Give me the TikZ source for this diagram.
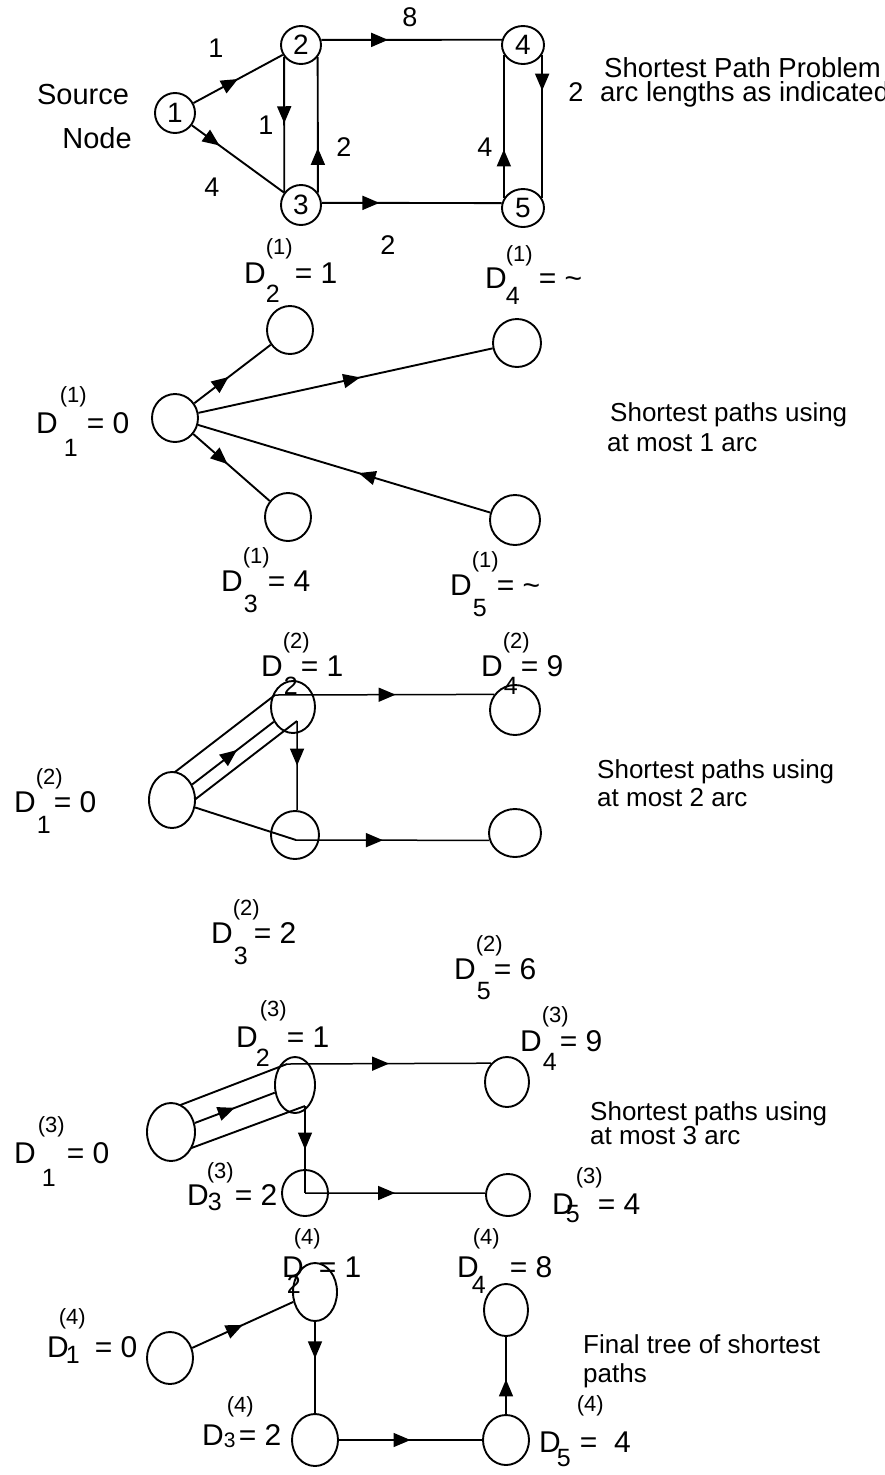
\documentclass[tikz,border=0pt]{standalone}
\usepackage{fontspec}
\setmainfont{Liberation Sans}
\usetikzlibrary{arrows.meta,decorations.markings,shapes.geometric,calc,backgrounds}

% D label: D, superscript (k) and subscript i set by hand, then the value
% #1,#2 shift/raise of the superscript, #3 its text
% #4,#5 shift/raise of the subscript, #6 its text
% #7 gap before the value #8
\newcommand\Dtxt[8]{D\rlap{\kern#1pt\raisebox{#2pt}{\fontsize{22}{22}\selectfont(#3)}}%
  \rlap{\kern#4pt\raisebox{#5pt}{\fontsize{25}{25}\selectfont #6}}\kern#7pt#8}

\tikzset{
  vtx/.style={draw, ellipse, line width=1.9pt, inner sep=0pt},
  sz/.style 2 args={minimum width=#1pt, minimum height=#2pt},
  link/.style={line width=1.9pt},
  thin link/.style={line width=1.5pt},
  arrowat/.style={postaction={decorate,decoration={markings,
      mark=at position #1 with {\arrow{Triangle[length=17pt,width=14pt]}}}}},
  arrowback/.style={postaction={decorate,decoration={markings,
      mark=at position #1 with {\arrowreversed{Triangle[length=17pt,width=14pt]}}}}},
  elab/.style={font=\fontsize{27}{27}\selectfont, inner sep=0pt},
  lbl/.style={font=\fontsize{30}{32}\selectfont, inner sep=0pt, anchor=base west},
  captxt/.style={font=\fontsize{26}{28}\selectfont, inner sep=0pt, anchor=base west},
  vnum/.style={font=\fontsize{28}{28}\selectfont},
}

\begin{document}
\begin{tikzpicture}[x=1pt,y=-1pt]
\useasboundingbox (0,0) rectangle (885,1475);

% ---------------- the network ----------------
\node[font=\fontsize{29}{29}\selectfont] (src) at (83,95) {Source};
\node[font=\fontsize{29}{29}\selectfont] (srcb) at (97,138) {Node};
\node[vtx,vnum,sz={40}{40}] (s1) at (175,113) {1};
\node[vtx,vnum,sz={40}{38}] (s2) at (301,45) {2};
\node[vtx,vnum,sz={40}{40}] (s3) at (301,205) {3};
\node[vtx,vnum,sz={42}{38}] (s4) at (523,45) {4};
\node[vtx,vnum,sz={42}{38}] (s5) at (523,208) {5};

\draw[link,arrowat=.5] (s1) -- (s2);
\draw[link,arrowat=.3] (s1) -- (s3);
\draw[link,arrowat=.49] (s2.215.5) -- (s3.143.1);
\draw[link,arrowat=.33] (s3.36.9) -- (s2.324.5);
\draw[link,arrowat=.37] (s2.14.5) -- (s4.166.8);
\draw[link,arrowat=.32] (s3.6) -- (s5.167);
\draw[link,arrowat=.25] (s4.333) -- (s5.27);
\draw[link,arrowat=.34] (s5.153) -- (s4.207);

\node[elab] (w12) at (216,48) {1};
\node[elab] (w13) at (212,187) {4};
\node[elab] (w23) at (266,125) {1};
\node[elab] (w32) at (344,147) {2};
\node[elab] (w24) at (410,17) {8};
\node[elab] (w35) at (388,245) {2};
\node[elab] (w54) at (485,147) {4};
\node[elab] (w45) at (576,92) {2};

\node[captxt,font=\fontsize{27.5}{28}\selectfont] (t1a) at (604,77) {Shortest Path Problem};
\node[captxt,font=\fontsize{27.5}{28}\selectfont] (t1b) at (600,101) {arc lengths as indicated};

% ---------------- at most 1 arc ----------------
\node[vtx,sz={46}{48}] (b1) at (175,418) {};
\node[vtx,sz={46}{48}] (b2) at (290,330) {};
\node[vtx,sz={48}{48}] (b4) at (517,343) {};
\node[vtx,sz={46}{48}] (b3) at (288,517) {};
\node[vtx,sz={50}{50}] (b5) at (515,520) {};

\draw[link,arrowat=.45] (b1) -- (b2);
\draw[link,arrowat=.55] (b1) -- (b4);
\draw[link,arrowat=.45] (b1) -- (b3);
\draw[link,arrowback=.55] (b1) -- (b5);

\node[lbl] (q2) at (244,283) {\Dtxt{0}{29}{1}{0}{-19}{2}{29}{= 1}};
\node[lbl] (q4) at (485,288) {\Dtxt{-1}{27}{1}{-1}{-16}{4}{32}{= \textasciitilde}};
\node[lbl] (q1) at (36,433) {\Dtxt{2}{31}{1}{6}{-23}{1}{29}{= 0}};
\node[lbl] (q3) at (221,591) {\Dtxt{0}{28}{1}{1}{-21}{3}{25}{= 4}};
\node[lbl] (q5) at (450,595) {\Dtxt{0}{28}{1}{1}{-21}{5}{25}{= \textasciitilde}};

\node[captxt] (t2a) at (610,421) {Shortest paths using};
\node[captxt] (t2b) at (607,451) {at most 1 arc};

% ---------------- at most 2 arcs ----------------
\node[vtx,sz={46}{56},fill=white] (c1) at (172,800) {};
\node[vtx,sz={44}{52}] (c2) at (293,707) {};
\node[vtx,sz={50}{50}] (c4) at (515,710) {};
\node[vtx,sz={48}{48}] (c3) at (295,835) {};
\node[vtx,sz={52}{48}] (c5) at (515,833) {};
\coordinate (c2up) at (275,695);
\coordinate (c2lo) at (297,721);
\coordinate (c1up) at (162,782);
\coordinate (c1lo) at (184,808);
\coordinate (c3in) at (296,840);

\begin{pgfonlayer}{background}
\draw[link] (c1up) -- (c2up);
\draw[link] (c1lo) -- (c2lo);
\draw[link,arrowat=.55] (c1) -- (c2);
\draw[thin link,arrowat=.55] (c2up) -- (c4.143);
\draw[thin link,arrowat=.5] (c2lo) -- (c3.85);
\draw[link] (c1) -- (c3in);
\draw[thin link,arrowat=.45] (c3in) -- (c5.196);
\end{pgfonlayer}

\node[lbl] (r2) at (261,676) {\Dtxt{0}{28}{2}{1}{-18}{2}{18}{= 1}};
\node[lbl] (r4) at (481,676) {\Dtxt{0}{28}{2}{1}{-18}{4}{18}{= 9}};
\node[lbl] (r1) at (14,812) {\Dtxt{0}{28}{2}{1}{-21}{1}{18}{= 0}};
\node[lbl] (r3) at (211,943) {\Dtxt{0}{28}{2}{1}{-21}{3}{21}{= 2}};
\node[lbl] (r5) at (454,979) {\Dtxt{0}{28}{2}{1}{-20}{5}{18}{= 6}};

\node[captxt] (t3a) at (597,778) {Shortest paths using};
\node[captxt] (t3b) at (597,806) {at most 2 arc};

% ---------------- at most 3 arcs ----------------
\node[vtx,sz={48}{58},fill=white] (d1) at (171,1132) {};
\node[vtx,sz={40}{56}] (d2) at (295,1085) {};
\node[vtx,sz={44}{50}] (d4) at (507,1082) {};
\node[vtx,sz={46}{46}] (d3) at (305,1193) {};
\node[vtx,sz={44}{42}] (d5) at (508,1195) {};
\coordinate (d2up) at (287,1064);
\coordinate (d2lo) at (305,1106);
\coordinate (d1up) at (170,1109);
\coordinate (d1lo) at (186,1150);
\coordinate (d3in) at (305,1193);

\begin{pgfonlayer}{background}
\draw[link] (d1up) -- (d2up);
\draw[link] (d1lo) -- (d2lo);
\draw[link,arrowat=.5] (d1) -- (d2);
\draw[thin link,arrowat=.5] (d2up) -- (d4.130);
\draw[thin link,arrowat=.5] (d2lo) -- (d3in);
\draw[thin link,arrowat=.5] (d3in) -- (d5.175);
\end{pgfonlayer}

\node[lbl] (u2) at (236,1047) {\Dtxt{2}{31}{3}{-2}{-19}{2}{29}{= 1}};
\node[lbl] (u4) at (520,1051) {\Dtxt{0}{29}{3}{1}{-19}{4}{18}{= 9}};
\node[lbl] (u1) at (14,1163) {\Dtxt{2}{31}{3}{6}{-23}{1}{31}{= 0}};
\node[lbl] (u3) at (187,1205) {\Dtxt{-2}{27}{3}{-1}{-5}{3}{26}{= 2}};
\node[lbl] (u5) at (552,1214) {\Dtxt{2}{31}{3}{-8}{-8}{5}{24}{= 4}};

\node[captxt] (t4a) at (590,1120) {Shortest paths using};
\node[captxt] (t4b) at (590,1144) {at most 3 arc};

% ---------------- final tree ----------------
\node[vtx,sz={46}{52}] (e1) at (170,1358) {};
\node[vtx,sz={44}{58}] (e2) at (315,1292) {};
\node[vtx,sz={44}{52}] (e4) at (506,1310) {};
\node[vtx,sz={46}{52}] (e3) at (315,1440) {};
\node[vtx,sz={46}{50}] (e5) at (506,1440) {};

\draw[link,arrowat=.5] (e1) -- (e2);
\draw[thin link,arrowat=.4] (e2) -- (e3);
\draw[thin link,arrowat=.5] (e3) -- (e5);
\draw[thin link,arrowat=.45] (e5) -- (e4);

\node[lbl] (v2) at (282,1277) {\Dtxt{-10}{33}{4}{-17}{-16}{2}{15}{= 1}};
\node[lbl] (v4) at (457,1277) {\Dtxt{-6}{33}{4}{-7}{-16}{4}{31}{= 8}};
\node[lbl] (v1) at (47,1357) {\Dtxt{-10}{33}{4}{-3}{-6}{1}{26}{= 0}};
\node[lbl] (v3) at (202,1445) {\Dtxt{3}{33}{4}{0}{-2}{\fontsize{21}{21}\selectfont 3}{15}{= 2}};
\node[lbl] (v5) at (539,1452) {\Dtxt{16}{41}{4}{-4}{-14}{5}{19}{=\ \ 4}};

\node[captxt] (t5a) at (583,1353) {Final tree of shortest};
\node[captxt] (t5b) at (583,1382) {paths};
\end{tikzpicture}
\end{document}
